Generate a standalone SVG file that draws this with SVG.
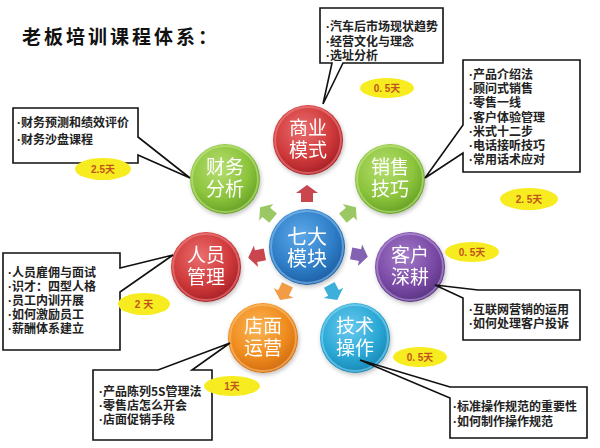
<svg xmlns="http://www.w3.org/2000/svg" width="600" height="448" viewBox="0 0 600 448">
<style>
.title{font-family:"Noto Sans CJK SC","Noto Sans",sans-serif;font-weight:700;font-size:19px;letter-spacing:3px;fill:#111}
.ct{font-family:"Noto Sans CJK SC","Noto Sans",sans-serif;font-size:19px;fill:#fff;text-anchor:middle}
.cc{font-family:"Noto Sans CJK SC","Noto Sans",sans-serif;font-size:20px;fill:#fff;text-anchor:middle}
.box{fill:#fff;stroke:#111;stroke-width:1.6;stroke-linejoin:miter}
.bt{font-family:"Noto Sans CJK SC","Noto Sans",sans-serif;font-weight:700;font-size:12px;fill:#222}
.bu{font-family:"Liberation Sans",sans-serif;font-weight:700}
.ell{fill:#f7ec1f}
.et{font-family:"Liberation Sans","Noto Sans CJK SC",sans-serif;font-size:10px;font-weight:700;fill:#c0541c;text-anchor:middle}
.rim{fill:none;stroke-width:2;stroke-opacity:0.55}
</style>
<defs>
<filter id="sh" x="-30%" y="-30%" width="160%" height="160%"><feDropShadow dx="1" dy="2" stdDeviation="2" flood-color="#000" flood-opacity="0.25"/></filter>
<radialGradient id="gRed" cx="0.42" cy="0.35" r="0.7"><stop offset="0" stop-color="#ea6e6e"/><stop offset="0.6" stop-color="#d03a3c"/><stop offset="1" stop-color="#a01c22"/></radialGradient>
<radialGradient id="gGreen" cx="0.42" cy="0.35" r="0.7"><stop offset="0" stop-color="#b6de72"/><stop offset="0.6" stop-color="#8cc43c"/><stop offset="1" stop-color="#5e9a20"/></radialGradient>
<radialGradient id="gBlue" cx="0.42" cy="0.35" r="0.7"><stop offset="0" stop-color="#5ea8e8"/><stop offset="0.6" stop-color="#2f7fc8"/><stop offset="1" stop-color="#1a589e"/></radialGradient>
<radialGradient id="gPurple" cx="0.42" cy="0.35" r="0.7"><stop offset="0" stop-color="#a47cca"/><stop offset="0.6" stop-color="#7b4ba6"/><stop offset="1" stop-color="#54307c"/></radialGradient>
<radialGradient id="gOrange" cx="0.42" cy="0.35" r="0.7"><stop offset="0" stop-color="#fab456"/><stop offset="0.6" stop-color="#f08c1e"/><stop offset="1" stop-color="#cc6610"/></radialGradient>
<radialGradient id="gCyan" cx="0.42" cy="0.35" r="0.7"><stop offset="0" stop-color="#6acaee"/><stop offset="0.6" stop-color="#2aa8d6"/><stop offset="1" stop-color="#1682b0"/></radialGradient>
<polygon id="arr" points="0,-9 11,-1 6,-1 6,8 -6,8 -6,-1 -11,-1"/>
</defs>
<rect width="600" height="448" fill="#fff"/>
<text class="title" x="22" y="44">老板培训课程体系：</text>

<g id="connectors">
<use href="#arr" transform="translate(307,194)" fill="#c9464e"/>
<use href="#arr" transform="translate(267,213) rotate(-50)" fill="#9cc864"/>
<use href="#arr" transform="translate(349,213) rotate(50)" fill="#9cc864"/>
<use href="#arr" transform="translate(257,256) rotate(-101)" fill="#c9464e"/>
<use href="#arr" transform="translate(359,255) rotate(101)" fill="#8462b2"/>
<use href="#arr" transform="translate(284,292) rotate(-154)" fill="#f29c48"/>
<use href="#arr" transform="translate(333,292) rotate(152)" fill="#3cb0da"/>
</g>

<g id="node-center" filter="url(#sh)">
<circle cx="307" cy="247" r="38" fill="url(#gBlue)"/>
<circle cx="307" cy="247" r="36" class="rim" stroke="#8cc4f0"/>
<text class="cc" x="307" y="244">七大<tspan x="307" dy="22">模块</tspan></text>
</g>
<g id="node-shangye" filter="url(#sh)">
<circle cx="308" cy="140" r="35" fill="url(#gRed)"/>
<circle cx="308" cy="140" r="33" class="rim" stroke="#f08a8a"/>
<text class="ct" x="308" y="135">商业<tspan x="308" dy="22">模式</tspan></text>
</g>
<g id="node-caiwu" filter="url(#sh)">
<circle cx="225" cy="179" r="35" fill="url(#gGreen)"/>
<circle cx="225" cy="179" r="33" class="rim" stroke="#c8ea90"/>
<text class="ct" x="225" y="174">财务<tspan x="225" dy="22">分析</tspan></text>
</g>
<g id="node-xiaoshou" filter="url(#sh)">
<circle cx="390" cy="179" r="35" fill="url(#gGreen)"/>
<circle cx="390" cy="179" r="33" class="rim" stroke="#c8ea90"/>
<text class="ct" x="390" y="174">销售<tspan x="390" dy="22">技巧</tspan></text>
</g>
<g id="node-renyuan" filter="url(#sh)">
<circle cx="206" cy="267" r="35" fill="url(#gRed)"/>
<circle cx="206" cy="267" r="33" class="rim" stroke="#f08a8a"/>
<text class="ct" x="206" y="262">人员<tspan x="206" dy="22">管理</tspan></text>
</g>
<g id="node-kehu" filter="url(#sh)">
<circle cx="410" cy="267" r="35" fill="url(#gPurple)"/>
<circle cx="410" cy="267" r="33" class="rim" stroke="#c0a0e0"/>
<text class="ct" x="410" y="262">客户<tspan x="410" dy="22">深耕</tspan></text>
</g>
<g id="node-dianmian" filter="url(#sh)">
<circle cx="263" cy="338" r="35" fill="url(#gOrange)"/>
<circle cx="263" cy="338" r="33" class="rim" stroke="#fcc880"/>
<text class="ct" x="263" y="333">店面<tspan x="263" dy="22">运营</tspan></text>
</g>
<g id="node-jishu" filter="url(#sh)">
<circle cx="355" cy="338" r="35" fill="url(#gCyan)"/>
<circle cx="355" cy="338" r="33" class="rim" stroke="#90dcf4"/>
<text class="ct" x="355" y="333">技术<tspan x="355" dy="22">操作</tspan></text>
</g>

<g id="callout-shangye">
<path class="box" d="M320,8 H443 V63 H343 L323,104 L332,63 H320 Z"/>
<text class="bt" x="326" y="31"><tspan class="bu">·</tspan>汽车后市场现状趋势<tspan x="326" dy="15" class="bu">·</tspan>经营文化与理念<tspan x="326" dy="14" class="bu">·</tspan>选址分析</text>
<ellipse class="ell" cx="387" cy="88" rx="27" ry="10"/>
<text class="et" x="387" y="92">0. 5天</text>
</g>
<g id="callout-xiaoshou">
<path class="box" d="M463,60 H580 V172 H463 V153 L425,178 L463,125 Z"/>
<text class="bt" x="469" y="79"><tspan class="bu">·</tspan>产品介绍法<tspan x="469" dy="14.2" class="bu">·</tspan>顾问式销售<tspan x="469" dy="14.2" class="bu">·</tspan>零售一线<tspan x="469" dy="14.2" class="bu">·</tspan>客户体验管理<tspan x="469" dy="14.2" class="bu">·</tspan>米式十二步<tspan x="469" dy="14.2" class="bu">·</tspan>电话接听技巧<tspan x="469" dy="14.2" class="bu">·</tspan>常用话术应对</text>
<ellipse class="ell" cx="529" cy="199" rx="29" ry="11"/>
<text class="et" x="529" y="203">2. 5天</text>
</g>
<g id="callout-caiwu">
<path class="box" d="M13,108 H138 V137 L190,178 L138,155 V163 H13 Z"/>
<text class="bt" x="17" y="127"><tspan class="bu">·</tspan>财务预测和绩效评价<tspan x="17" dy="17" class="bu">·</tspan>财务沙盘课程</text>
<ellipse class="ell" cx="103" cy="169" rx="28" ry="11"/>
<text class="et" x="103" y="173">2.5天</text>
</g>
<g id="callout-renyuan">
<path class="box" d="M3,253 H120 V268 L173,255 L120,292 V350 H3 Z"/>
<text class="bt" x="8" y="277"><tspan class="bu">·</tspan>人员雇佣与面试<tspan x="8" dy="14" class="bu">·</tspan>识才：四型人格<tspan x="8" dy="14" class="bu">·</tspan>员工内训开展<tspan x="8" dy="14" class="bu">·</tspan>如何激励员工<tspan x="8" dy="14" class="bu">·</tspan>薪酬体系建立</text>
<ellipse class="ell" cx="144" cy="304" rx="26" ry="11"/>
<text class="et" x="144" y="308">2 天</text>
</g>
<g id="callout-kehu">
<path class="box" d="M478,290 H580 V340 H463 V298 L435,285 Z"/>
<text class="bt" x="469" y="314"><tspan class="bu">·</tspan>互联网营销的运用<tspan x="469" dy="14" class="bu">·</tspan>如何处理客户投诉</text>
<ellipse class="ell" cx="472" cy="252" rx="27" ry="10"/>
<text class="et" x="472" y="256">0. 5天</text>
</g>
<g id="callout-dianmian">
<path class="box" d="M93,370 H158 L230,343 L192,370 H212 V440 H93 Z"/>
<text class="bt" x="99" y="396"><tspan class="bu">·</tspan>产品陈列5S管理法<tspan x="99" dy="14" class="bu">·</tspan>零售店怎么开会<tspan x="99" dy="14" class="bu">·</tspan>店面促销手段</text>
<ellipse class="ell" cx="232" cy="386" rx="28" ry="10"/>
<text class="et" x="232" y="390">1天</text>
</g>
<g id="callout-jishu">
<path class="box" d="M450,387 H587 V438 H450 V398 L360,360 Z"/>
<text class="bt" x="453" y="411"><tspan class="bu">·</tspan>标准操作规范的重要性<tspan x="453" dy="15" class="bu">·</tspan>如何制作操作规范</text>
<ellipse class="ell" cx="420" cy="357" rx="27" ry="10"/>
<text class="et" x="420" y="361">0. 5天</text>
</g>
</svg>
